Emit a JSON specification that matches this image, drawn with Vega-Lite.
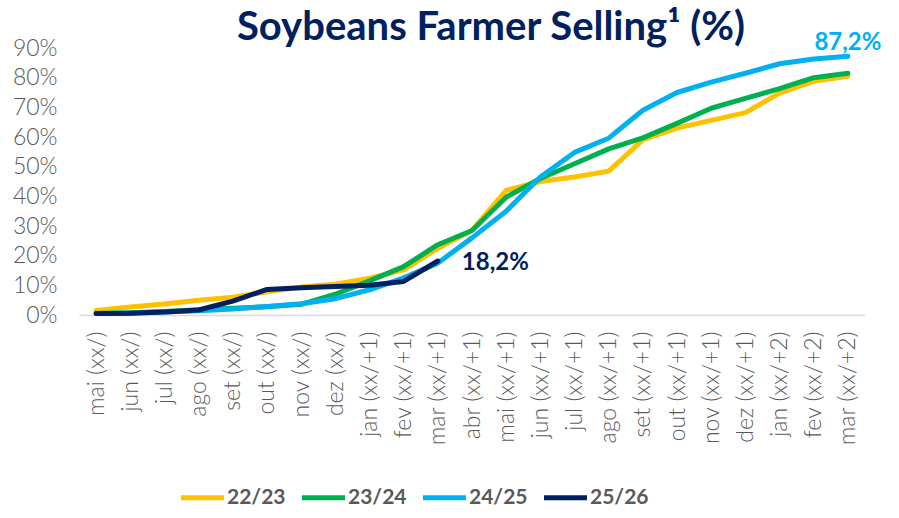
{
  "$schema": "https://vega.github.io/schema/vega-lite/v6.json",
  "width": 786,
  "height": 267,
  "autosize": {"type": "none"},
  "padding": {"left": 79, "top": 48, "right": 34, "bottom": 203},
  "background": "white",
  "title": {
    "text": "Soybeans Farmer Selling¹ (%)",
    "font": "Lato",
    "fontSize": 40,
    "fontWeight": "bold",
    "color": "#002060",
    "anchor": "middle",
    "dx": 19,
    "dy": 21,
    "offset": 4
  },
  "config": {
    "view": {"stroke": null},
    "locale": {"number": {"decimal": ",", "thousands": ".", "grouping": [3], "currency": ["R$", ""]}}
  },
  "data": {
    "values": [
      {"m": "mai (xx/)", "s": "22/23", "v": 0.015},
      {"m": "jun (xx/)", "s": "22/23", "v": 0.027},
      {"m": "jul (xx/)", "s": "22/23", "v": 0.037},
      {"m": "ago (xx/)", "s": "22/23", "v": 0.05},
      {"m": "set (xx/)", "s": "22/23", "v": 0.06},
      {"m": "out (xx/)", "s": "22/23", "v": 0.078},
      {"m": "nov (xx/)", "s": "22/23", "v": 0.094},
      {"m": "dez (xx/)", "s": "22/23", "v": 0.104},
      {"m": "jan (xx/+1)", "s": "22/23", "v": 0.124},
      {"m": "fev (xx/+1)", "s": "22/23", "v": 0.152},
      {"m": "mar (xx/+1)", "s": "22/23", "v": 0.225},
      {"m": "abr (xx/+1)", "s": "22/23", "v": 0.285},
      {"m": "mai (xx/+1)", "s": "22/23", "v": 0.42},
      {"m": "jun (xx/+1)", "s": "22/23", "v": 0.45},
      {"m": "jul (xx/+1)", "s": "22/23", "v": 0.465},
      {"m": "ago (xx/+1)", "s": "22/23", "v": 0.485},
      {"m": "set (xx/+1)", "s": "22/23", "v": 0.59},
      {"m": "out (xx/+1)", "s": "22/23", "v": 0.63},
      {"m": "nov (xx/+1)", "s": "22/23", "v": 0.656},
      {"m": "dez (xx/+1)", "s": "22/23", "v": 0.682},
      {"m": "jan (xx/+2)", "s": "22/23", "v": 0.748},
      {"m": "fev (xx/+2)", "s": "22/23", "v": 0.788},
      {"m": "mar (xx/+2)", "s": "22/23", "v": 0.805},
      {"m": "mai (xx/)", "s": "23/24", "v": 0.005},
      {"m": "jun (xx/)", "s": "23/24", "v": 0.008},
      {"m": "jul (xx/)", "s": "23/24", "v": 0.012},
      {"m": "ago (xx/)", "s": "23/24", "v": 0.018},
      {"m": "set (xx/)", "s": "23/24", "v": 0.023},
      {"m": "out (xx/)", "s": "23/24", "v": 0.028},
      {"m": "nov (xx/)", "s": "23/24", "v": 0.036},
      {"m": "dez (xx/)", "s": "23/24", "v": 0.07},
      {"m": "jan (xx/+1)", "s": "23/24", "v": 0.115},
      {"m": "fev (xx/+1)", "s": "23/24", "v": 0.163},
      {"m": "mar (xx/+1)", "s": "23/24", "v": 0.237},
      {"m": "abr (xx/+1)", "s": "23/24", "v": 0.285},
      {"m": "mai (xx/+1)", "s": "23/24", "v": 0.397},
      {"m": "jun (xx/+1)", "s": "23/24", "v": 0.46},
      {"m": "jul (xx/+1)", "s": "23/24", "v": 0.51},
      {"m": "ago (xx/+1)", "s": "23/24", "v": 0.56},
      {"m": "set (xx/+1)", "s": "23/24", "v": 0.597},
      {"m": "out (xx/+1)", "s": "23/24", "v": 0.646},
      {"m": "nov (xx/+1)", "s": "23/24", "v": 0.697},
      {"m": "dez (xx/+1)", "s": "23/24", "v": 0.73},
      {"m": "jan (xx/+2)", "s": "23/24", "v": 0.763},
      {"m": "fev (xx/+2)", "s": "23/24", "v": 0.8},
      {"m": "mar (xx/+2)", "s": "23/24", "v": 0.815},
      {"m": "mai (xx/)", "s": "24/25", "v": 0.005},
      {"m": "jun (xx/)", "s": "24/25", "v": 0.007},
      {"m": "jul (xx/)", "s": "24/25", "v": 0.01},
      {"m": "ago (xx/)", "s": "24/25", "v": 0.014},
      {"m": "set (xx/)", "s": "24/25", "v": 0.02},
      {"m": "out (xx/)", "s": "24/25", "v": 0.029},
      {"m": "nov (xx/)", "s": "24/25", "v": 0.038},
      {"m": "dez (xx/)", "s": "24/25", "v": 0.055},
      {"m": "jan (xx/+1)", "s": "24/25", "v": 0.085},
      {"m": "fev (xx/+1)", "s": "24/25", "v": 0.125},
      {"m": "mar (xx/+1)", "s": "24/25", "v": 0.175},
      {"m": "abr (xx/+1)", "s": "24/25", "v": 0.26},
      {"m": "mai (xx/+1)", "s": "24/25", "v": 0.35},
      {"m": "jun (xx/+1)", "s": "24/25", "v": 0.465},
      {"m": "jul (xx/+1)", "s": "24/25", "v": 0.548},
      {"m": "ago (xx/+1)", "s": "24/25", "v": 0.596},
      {"m": "set (xx/+1)", "s": "24/25", "v": 0.69},
      {"m": "out (xx/+1)", "s": "24/25", "v": 0.75},
      {"m": "nov (xx/+1)", "s": "24/25", "v": 0.785},
      {"m": "dez (xx/+1)", "s": "24/25", "v": 0.815},
      {"m": "jan (xx/+2)", "s": "24/25", "v": 0.847},
      {"m": "fev (xx/+2)", "s": "24/25", "v": 0.863},
      {"m": "mar (xx/+2)", "s": "24/25", "v": 0.872},
      {"m": "mai (xx/)", "s": "25/26", "v": 0.005},
      {"m": "jun (xx/)", "s": "25/26", "v": 0.006},
      {"m": "jul (xx/)", "s": "25/26", "v": 0.01},
      {"m": "ago (xx/)", "s": "25/26", "v": 0.017},
      {"m": "set (xx/)", "s": "25/26", "v": 0.047},
      {"m": "out (xx/)", "s": "25/26", "v": 0.086},
      {"m": "nov (xx/)", "s": "25/26", "v": 0.092},
      {"m": "dez (xx/)", "s": "25/26", "v": 0.096},
      {"m": "jan (xx/+1)", "s": "25/26", "v": 0.1},
      {"m": "fev (xx/+1)", "s": "25/26", "v": 0.113},
      {"m": "mar (xx/+1)", "s": "25/26", "v": 0.182}
    ]
  },
  "encoding": {
    "x": {
      "field": "m",
      "type": "ordinal",
      "sort": ["mai (xx/)", "jun (xx/)", "jul (xx/)", "ago (xx/)", "set (xx/)", "out (xx/)", "nov (xx/)", "dez (xx/)", "jan (xx/+1)", "fev (xx/+1)", "mar (xx/+1)", "abr (xx/+1)", "mai (xx/+1)", "jun (xx/+1)", "jul (xx/+1)", "ago (xx/+1)", "set (xx/+1)", "out (xx/+1)", "nov (xx/+1)", "dez (xx/+1)", "jan (xx/+2)", "fev (xx/+2)", "mar (xx/+2)"],
      "scale": {"type": "point", "padding": 0.5},
      "axis": {
        "title": null,
        "labelAngle": -90,
        "labelFont": "Lato",
        "labelFontSize": 23,
        "labelFontWeight": 300,
        "labelColor": "#595959",
        "labelPadding": 16,
        "ticks": false,
        "domainColor": "#d9d9d9",
        "domainWidth": 1.5,
        "grid": false
      }
    },
    "y": {
      "field": "v",
      "type": "quantitative",
      "scale": {"domain": [0, 0.9], "nice": false},
      "axis": {
        "title": null,
        "format": ".0%",
        "values": [0, 0.1, 0.2, 0.3, 0.4, 0.5, 0.6, 0.7, 0.8, 0.9],
        "labelFont": "Lato",
        "labelFontSize": 23,
        "labelFontWeight": 300,
        "labelColor": "#595959",
        "labelPadding": 22,
        "ticks": false,
        "domain": false,
        "grid": false
      }
    }
  },
  "layer": [
    {
      "mark": {"type": "line", "strokeWidth": 5, "strokeCap": "round", "strokeJoin": "round"},
      "encoding": {
        "color": {
          "field": "s",
          "type": "nominal",
          "scale": {"domain": ["22/23", "23/24", "24/25", "25/26"], "range": ["#FFC000", "#00B050", "#00B0F0", "#002060"]},
          "legend": {
            "title": null,
            "orient": "none",
            "direction": "horizontal",
            "legendX": 99,
            "legendY": 425,
            "symbolType": "stroke",
            "symbolSize": 1850,
            "symbolStrokeWidth": 5,
            "labelFont": "Lato",
            "labelFontSize": 21,
            "labelFontWeight": "bold",
            "labelColor": "#595959",
            "labelOffset": 0,
            "columnPadding": 5
          }
        }
      }
    },
    {
      "transform": [{"filter": "datum.s == '24/25' && datum.m == 'mar (xx/+2)'"}],
      "mark": {"type": "text", "font": "Lato", "fontSize": 24, "fontWeight": "bold", "color": "#00B0F0", "align": "center", "baseline": "alphabetic", "dy": -6},
      "encoding": {"text": {"field": "v", "type": "quantitative", "format": ".1%"}}
    },
    {
      "transform": [{"filter": "datum.s == '25/26' && datum.m == 'mar (xx/+1)'"}],
      "mark": {"type": "text", "font": "Lato", "fontSize": 24, "fontWeight": "bold", "color": "#002060", "align": "left", "baseline": "middle", "dx": 24, "dy": 2},
      "encoding": {"text": {"field": "v", "type": "quantitative", "format": ".1%"}}
    }
  ]
}
